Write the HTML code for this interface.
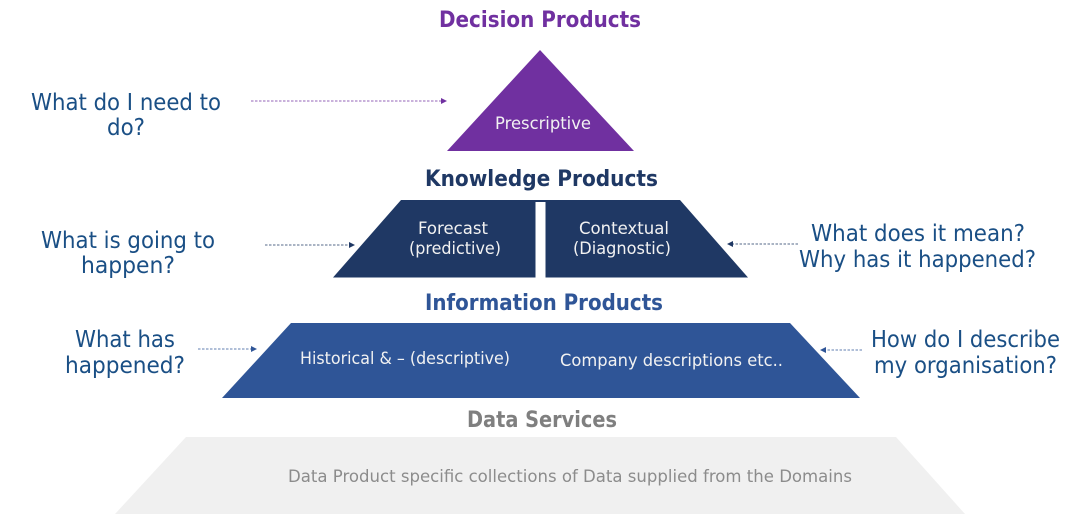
<!DOCTYPE html>
<html><head><meta charset="utf-8"><style>
html,body{margin:0;padding:0;background:#fff;width:1080px;height:514px;overflow:hidden}
svg{display:block}
text{font-family:"DejaVu Sans","Liberation Sans",sans-serif}
.h{font-size:22px;font-weight:700}
.q{font-size:23px;fill:#1a4f85}
.w{font-size:16.5px;fill:#f2f2f2}
</style></head><body>
<svg width="1080" height="514" viewBox="0 0 1080 514" xmlns="http://www.w3.org/2000/svg">
<polygon points="540,50 634,151 447,151" fill="#7030a0"/>
<polygon points="401,200 680,200 748,277.5 333,277.5" fill="#1f3864"/>
<rect x="535.5" y="202" width="10" height="76" fill="#fff"/>
<polygon points="291,323 790,323 860,398 222,398" fill="#2f5597"/>
<polygon points="186,437 896,437 965,514 115,514" fill="#f0f0f0"/>
<g stroke-width="0.8" stroke-dasharray="2.5 1.5" fill="none">
<line x1="251" y1="101" x2="442" y2="101" stroke="#7030a0"/>
<line x1="265" y1="245" x2="350" y2="245" stroke="#1f3864"/>
<line x1="798" y1="244" x2="733" y2="244" stroke="#1f3864"/>
<line x1="198" y1="349" x2="251" y2="349" stroke="#2f5597"/>
<line x1="862" y1="350" x2="826" y2="350" stroke="#2f5597"/>
</g>
<polygon points="447,101 441,98 441,104" fill="#7030a0"/>
<polygon points="355,245 349,242 349,248" fill="#1f3864"/>
<polygon points="727,244 733,241 733,247" fill="#1f3864"/>
<polygon points="257,349 251,346 251,352" fill="#2f5597"/>
<polygon points="820,350 826,347 826,353" fill="#2f5597"/>
<text class="h" x="439" y="27" fill="#7030a0" textLength="202" lengthAdjust="spacingAndGlyphs">Decision Products</text>
<text class="h" x="425" y="186" fill="#1f3864" textLength="233" lengthAdjust="spacingAndGlyphs">Knowledge Products</text>
<text class="h" x="425" y="310" fill="#2f5597" textLength="238" lengthAdjust="spacingAndGlyphs">Information Products</text>
<text class="h" x="467" y="427" fill="#7f7f7f" textLength="150" lengthAdjust="spacingAndGlyphs">Data Services</text>
<text class="q" x="31" y="110" textLength="190" lengthAdjust="spacingAndGlyphs">What do I need to</text>
<text class="q" x="107" y="135" textLength="38" lengthAdjust="spacingAndGlyphs">do?</text>
<text class="q" x="41" y="248" textLength="174" lengthAdjust="spacingAndGlyphs">What is going to</text>
<text class="q" x="81" y="273" textLength="94" lengthAdjust="spacingAndGlyphs">happen?</text>
<text class="q" x="811" y="241" textLength="214" lengthAdjust="spacingAndGlyphs">What does it mean?</text>
<text class="q" x="799" y="267" textLength="237" lengthAdjust="spacingAndGlyphs">Why has it happened?</text>
<text class="q" x="75" y="347" textLength="100" lengthAdjust="spacingAndGlyphs">What has</text>
<text class="q" x="65" y="373" textLength="120" lengthAdjust="spacingAndGlyphs">happened?</text>
<text class="q" x="871" y="347" textLength="189" lengthAdjust="spacingAndGlyphs">How do I describe</text>
<text class="q" x="874" y="373" textLength="183" lengthAdjust="spacingAndGlyphs">my organisation?</text>
<text class="w" x="495" y="129" textLength="96" lengthAdjust="spacingAndGlyphs">Prescriptive</text>
<text class="w" x="418" y="234" textLength="70" lengthAdjust="spacingAndGlyphs">Forecast</text>
<text class="w" x="409" y="254" textLength="92" lengthAdjust="spacingAndGlyphs">(predictive)</text>
<text class="w" x="579" y="234" textLength="90" lengthAdjust="spacingAndGlyphs">Contextual</text>
<text class="w" x="573" y="254" textLength="98" lengthAdjust="spacingAndGlyphs">(Diagnostic)</text>
<text class="w" x="300" y="364" textLength="210" lengthAdjust="spacingAndGlyphs">Historical &amp; – (descriptive)</text>
<text class="w" x="560" y="366" textLength="223" lengthAdjust="spacingAndGlyphs">Company descriptions etc..</text>
<text class="w" x="288" y="482" textLength="564" lengthAdjust="spacingAndGlyphs" style="fill:#8c8c8c">Data Product specific collections of Data supplied from the Domains</text>
</svg>
</body></html>
